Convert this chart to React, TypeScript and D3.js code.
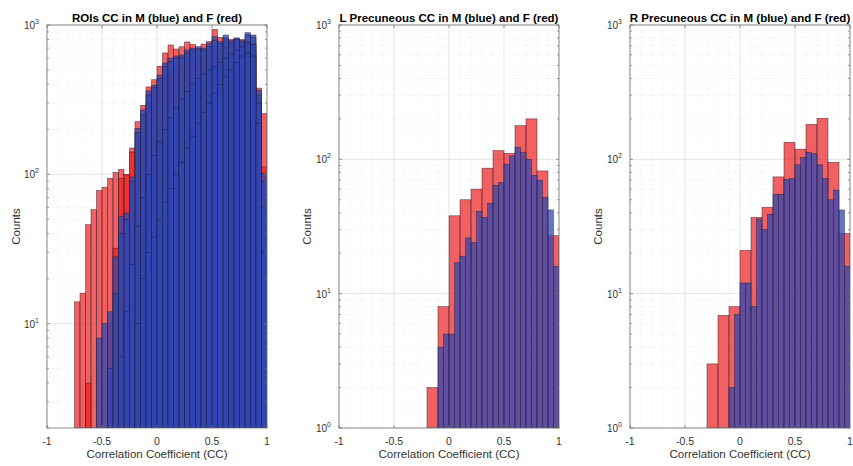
import React from 'react';
import * as d3 from 'd3';

const W = 853;
const H = 466;
const TOP = 25;
const BOTTOM = 428;
const FONT = "'Liberation Sans', Arial, Helvetica, sans-serif";

// ---------- Data ----------
const titles = [
  'ROIs CC in M (blue) and F (red)',
  'L Precuneous CC in M (blue) and F (red)',
  'R Precuneous CC in M (blue) and F (red)',
];
const xTickValues = [-1, -0.5, 0, 0.5, 1];
const xTickLabels = ['-1', '-0.5', '0', '0.5', '1'];
const xLabel = 'Correlation Coefficient (CC)';
const yLabel = 'Counts';

// Panel 1 (ROIs): bins of 0.05
const roiBinWidth = 0.05;
const roiF1Start = -0.75;
const roiF1 = [14, 16, 46, 58, 78, 82, 94, 103, 108, 100, 150, 225, 290, 385, 430, 530, 650, 735, 690, 715, 770, 740, 700, 745, 775, 935, 826, 800, 800, 810, 800, 780, 760, 378, 255];
const roiF2Start = -0.65;
const roiF2 = [4, 1, 1, 1, 10, 32, 94, 100, 141, 190, 240, 300, 350, 400, 450, 500, 520, 540, 560, 580, 600, 620, 640, 700, 700, 720, 740, 760, 740, 700, 650, 300, 112];
const roiM1Start = -0.55;
const roiM1 = [8, 10, 12, 28, 52, 55, 96, 203, 270, 362, 395, 462, 556, 600, 620, 630, 680, 700, 716, 700, 757, 835, 773, 857, 785, 820, 785, 888, 857, 366, 101];
const roiM2Start = -0.45;
const roiM2 = [5, 16, 40, 50, 90, 190, 250, 340, 380, 440, 530, 570, 600, 610, 650, 680, 690, 680, 720, 790, 750, 820, 760, 800, 770, 860, 830, 340, 90];
const roiM3Start = -0.35;
const roiM3 = [6, 12, 25, 45, 70, 100, 134, 165, 200, 240, 280, 320, 360, 400, 440, 470, 500, 525, 560, 600, 640, 680, 720, 760, 740, 300, 60];
const roiM4Start = -0.2;
const roiM4 = [10, 20, 30, 38, 50, 65, 80, 100, 120, 150, 180, 220, 260, 300, 350, 400, 450, 500, 560, 620, 650, 620, 220, 30];

// Panel 2 (L Precuneous)
const lpFStart = -0.2;
const lpFWidth = 0.1;
const lpF = [2, 8, 38, 50, 60, 86, 116, 111, 178, 200, 82, 27];
const lpMStart = -0.1;
const lpMWidth = 0.05;
const lpM = [4, 5, 5, 17, 19, 26, 24, 41, 37, 47, 64, 67, 92, 106, 123, 113, 100, 76, 70, 52, 42, 16];

// Panel 3 (R Precuneous)
const rpFStart = -0.3;
const rpFWidth = 0.1;
const rpF = [3, 6.9, 8, 21, 37, 44, 74, 134, 119, 182, 202, 95, 28];
const rpMStart = -0.1;
const rpMWidth = 0.05;
const rpM = [2, 7, 12, 12, 8, 36, 30, 39, 55, 55, 71, 72, 91, 103, 113, 110, 91, 72, 50, 59, 42, 16];

// ---------- Styles ----------
const RED = 'rgb(235,30,30)';
const BLUE = 'rgb(48,70,178)';
const RED_A = 0.7;
const BLUE_A = 0.74;

type Series = { start: number; width: number; counts: number[]; color: string; alpha: number };

const panels: { left: number; right: number; ymin: number; series: Series[]; labelX: number }[] = [
  {
    left: 47, right: 267, ymin: 2, labelX: 16,
    series: [
      { start: roiF1Start, width: roiBinWidth, counts: roiF1, color: RED, alpha: RED_A },
      { start: roiF2Start, width: roiBinWidth, counts: roiF2, color: RED, alpha: RED_A },
      { start: roiM1Start, width: roiBinWidth, counts: roiM1, color: BLUE, alpha: BLUE_A },
      { start: roiM2Start, width: roiBinWidth, counts: roiM2, color: BLUE, alpha: BLUE_A },
      { start: roiM3Start, width: roiBinWidth, counts: roiM3, color: BLUE, alpha: BLUE_A },
      { start: roiM4Start, width: roiBinWidth, counts: roiM4, color: BLUE, alpha: BLUE_A },
    ],
  },
  {
    left: 339, right: 559, ymin: 1, labelX: 307,
    series: [
      { start: lpFStart, width: lpFWidth, counts: lpF, color: RED, alpha: RED_A },
      { start: lpMStart, width: lpMWidth, counts: lpM, color: BLUE, alpha: BLUE_A },
    ],
  },
  {
    left: 630, right: 850, ymin: 1, labelX: 598,
    series: [
      { start: rpFStart, width: rpFWidth, counts: rpF, color: RED, alpha: RED_A },
      { start: rpMStart, width: rpMWidth, counts: rpM, color: BLUE, alpha: BLUE_A },
    ],
  },
];

function Panel({ idx }: { idx: number }) {
  const p = panels[idx];
  const x = d3.scaleLinear().domain([-1, 1]).range([p.left, p.right]);
  const y = d3.scaleLog().domain([p.ymin, 1000]).range([BOTTOM, TOP]);
  const clipId = `clip${idx}`;

  const minorY: number[] = [];
  const majorY: number[] = [];
  for (let e = 0; e < 3; e++) {
    const base = Math.pow(10, e);
    for (let m = 1; m < 10; m++) {
      const v = base * m;
      if (v < p.ymin || v > 1000) continue;
      if (m === 1) majorY.push(v);
      else minorY.push(v);
    }
  }
  majorY.push(1000);
  const minorX = d3.range(-9, 10).map((k) => k / 10).filter((v) => Math.abs(v * 2 - Math.round(v * 2)) > 1e-6);

  const gridMajor = '#d5dbe3';
  const gridMinor = '#e3e7ec';
  const axisColor = '#777';
  const cx = (p.left + p.right) / 2;

  return (
    <g>
      <defs>
        <clipPath id={clipId}>
          <rect x={p.left} y={TOP} width={p.right - p.left} height={BOTTOM - TOP} />
        </clipPath>
      </defs>
      <rect x={p.left} y={TOP} width={p.right - p.left} height={BOTTOM - TOP} fill="#fff" />
      {/* grid */}
      <g>
        {minorX.map((v) => (
          <line key={'mx' + v} x1={x(v)} x2={x(v)} y1={TOP} y2={BOTTOM} stroke={gridMinor} strokeWidth={0.7} strokeDasharray="1,1.5" />
        ))}
        {minorY.map((v) => (
          <line key={'my' + v} x1={p.left} x2={p.right} y1={y(v)} y2={y(v)} stroke={gridMinor} strokeWidth={0.7} strokeDasharray="1,1.5" />
        ))}
        {xTickValues.map((v) => (
          <line key={'gx' + v} x1={x(v)} x2={x(v)} y1={TOP} y2={BOTTOM} stroke={gridMajor} strokeWidth={0.7} />
        ))}
        {majorY.map((v) => (
          <line key={'gy' + v} x1={p.left} x2={p.right} y1={y(v)} y2={y(v)} stroke={gridMajor} strokeWidth={0.7} />
        ))}
      </g>
      {/* histograms */}
      <g clipPath={`url(#${clipId})`}>
        {p.series.map((s, si) => (
          <g key={si}>
            {s.counts.map((c, i) => {
              if (c <= p.ymin) return null;
              const x0 = x(s.start + i * s.width);
              const x1 = x(s.start + (i + 1) * s.width);
              return (
                <rect
                  key={i}
                  x={x0}
                  width={x1 - x0}
                  y={y(c)}
                  height={y(p.ymin) - y(c)}
                  fill={s.color}
                  fillOpacity={s.alpha}
                  stroke="#1b1b30"
                  strokeOpacity={0.7}
                  strokeWidth={0.6}
                />
              );
            })}
          </g>
        ))}
      </g>
      {/* box */}
      <rect x={p.left} y={TOP} width={p.right - p.left} height={BOTTOM - TOP} fill="none" stroke={axisColor} strokeWidth={0.8} />
      {/* ticks */}
      {xTickValues.map((v) => (
        <g key={'tx' + v}>
          <line x1={x(v)} x2={x(v)} y1={BOTTOM} y2={BOTTOM - 3} stroke={axisColor} strokeWidth={0.8} />
          <line x1={x(v)} x2={x(v)} y1={TOP} y2={TOP + 3} stroke={axisColor} strokeWidth={0.8} />
        </g>
      ))}
      {majorY.map((v) => (
        <g key={'ty' + v}>
          <line x1={p.left} x2={p.left + 3} y1={y(v)} y2={y(v)} stroke={axisColor} strokeWidth={0.8} />
          <line x1={p.right} x2={p.right - 3} y1={y(v)} y2={y(v)} stroke={axisColor} strokeWidth={0.8} />
        </g>
      ))}
      {minorY.map((v) => (
        <g key={'tmy' + v}>
          <line x1={p.left} x2={p.left + 2} y1={y(v)} y2={y(v)} stroke={axisColor} strokeWidth={0.7} />
          <line x1={p.right} x2={p.right - 2} y1={y(v)} y2={y(v)} stroke={axisColor} strokeWidth={0.7} />
        </g>
      ))}
      {/* tick labels */}
      {xTickValues.map((v, i) => (
        <text key={'lx' + v} x={x(v)} y={445} textAnchor="middle" fontSize={10.5} fill="#333" fontFamily={FONT}>
          {xTickLabels[i]}
        </text>
      ))}
      {majorY.map((v) => (
        <text key={'ly' + v} x={p.left - 8} y={y(v) + 4} textAnchor="end" fontSize={10} fill="#333" fontFamily={FONT}>
          <tspan>10</tspan>
          <tspan dy={-5} fontSize={7}>{String(Math.round(Math.log10(v)))}</tspan>
        </text>
      ))}
      {/* axis labels */}
      <text x={cx} y={458} textAnchor="middle" fontSize={11.5} fill="#333" fontFamily={FONT}>
        {xLabel}
      </text>
      <text
        transform={`translate(${p.labelX + 4},${(TOP + BOTTOM) / 2}) rotate(-90)`}
        textAnchor="middle"
        fontSize={11.5}
        fill="#333"
        fontFamily={FONT}
      >
        {yLabel}
      </text>
      {/* title */}
      <text x={cx} y={22} textAnchor="middle" fontSize={11.5} fontWeight="bold" fill="#000" fontFamily={FONT}>
        {titles[idx]}
      </text>
    </g>
  );
}

export default function App() {
  return (
    <div style={{ position: 'absolute', left: 0, top: 0, width: W, height: H, background: '#fff' }}>
      <svg width={W} height={H} viewBox={`0 0 ${W} ${H}`} style={{ display: 'block' }}>
        <rect x={0} y={0} width={W} height={H} fill="#fff" />
        {panels.map((_, i) => (
          <Panel key={i} idx={i} />
        ))}
      </svg>
    </div>
  );
}
